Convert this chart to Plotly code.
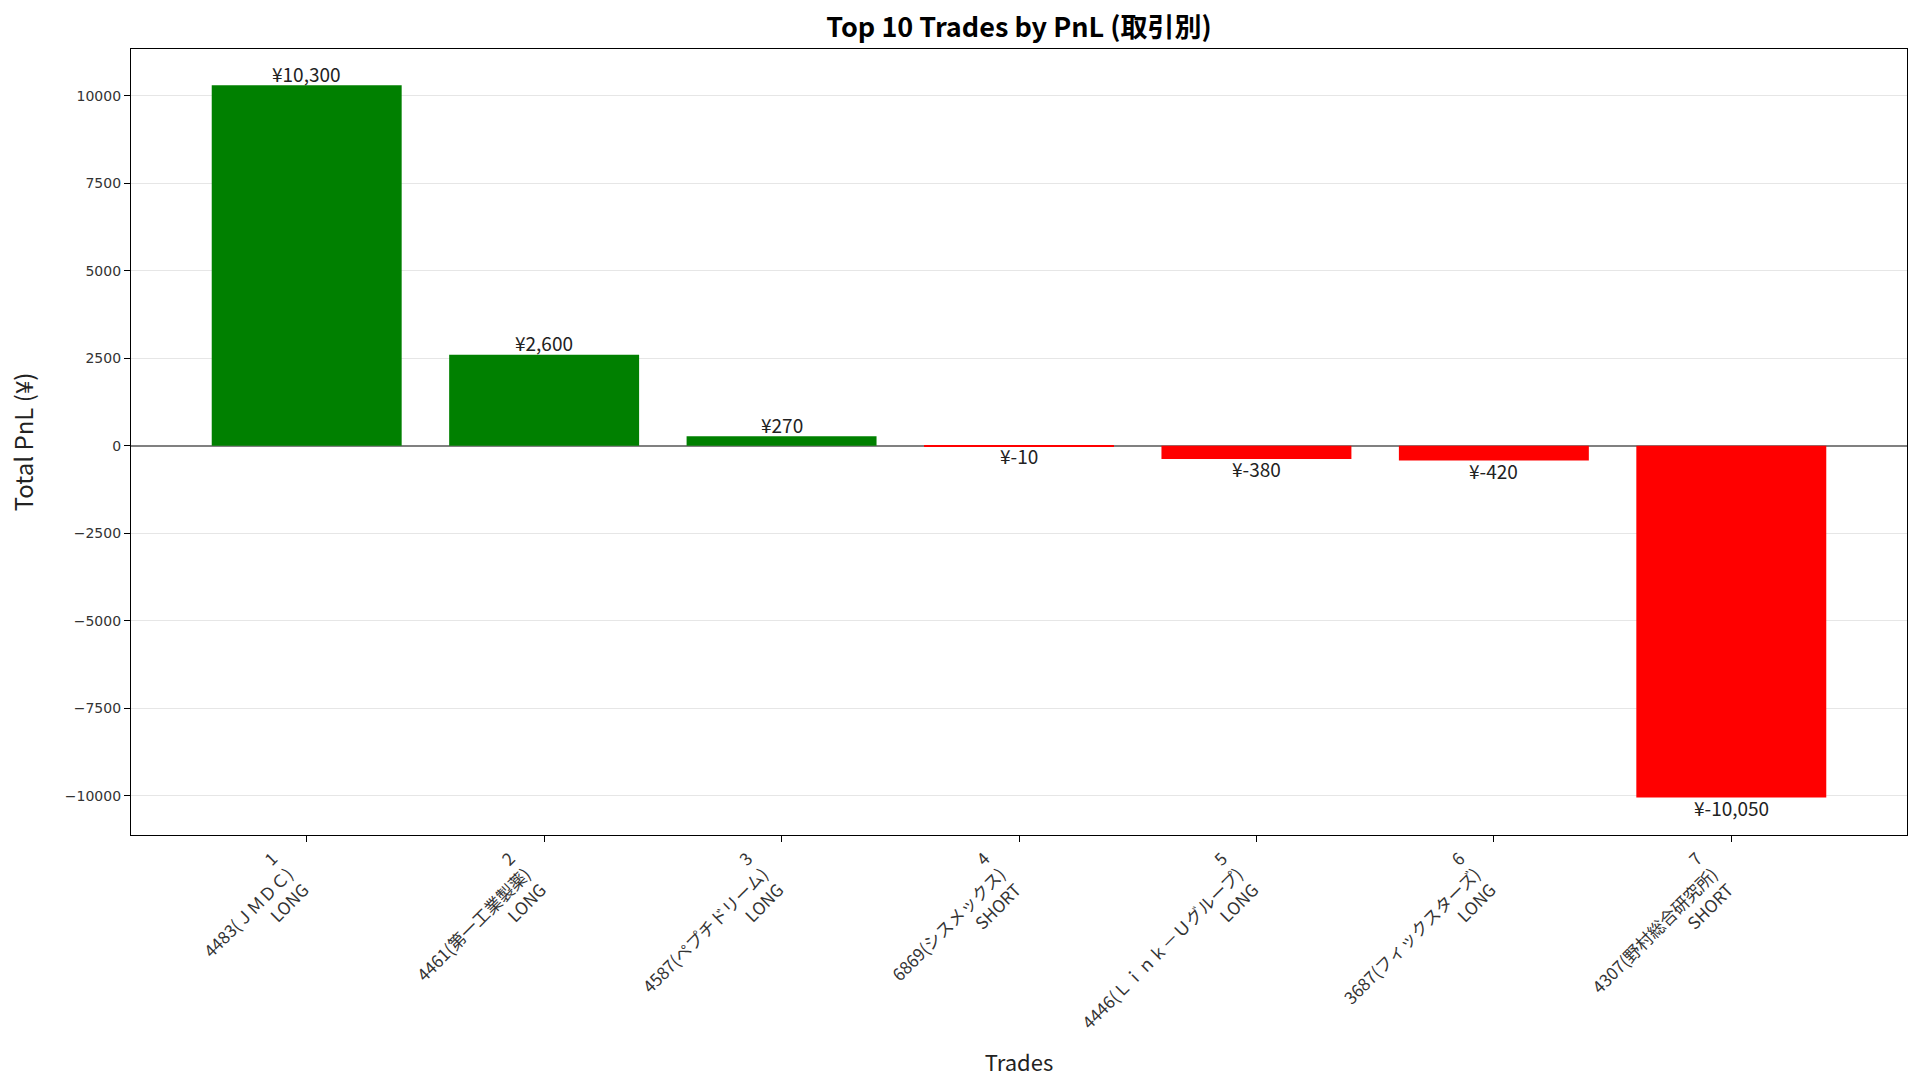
import plotly.graph_objects as go

ranks = ["1", "2", "3", "4", "5", "6", "7"]
tickers = ["4483(ＪＭＤＣ)", "4461(第一工業製薬)", "4587(ペプチドリーム)", "6869(シスメックス)",
           "4446(Ｌｉｎｋ－Ｕグループ)", "3687(フィックスターズ)", "4307(野村総合研究所)"]
sides = ["LONG", "LONG", "LONG", "SHORT", "LONG", "LONG", "SHORT"]
pnl = [10300, 2600, 270, -10, -380, -420, -10050]

labels = [f"{r}<br>{t}<br>{s}" for r, t, s in zip(ranks, tickers, sides)]
colors = ["#008000" if v > 0 else "#ff0000" for v in pnl]
texts = [f"¥{v:,}" if v >= 0 else f"¥-{abs(v):,}" for v in pnl]

FONT = "Noto Sans CJK JP, sans-serif"

fig = go.Figure()
fig.add_trace(go.Bar(
    x=list(range(len(pnl))), y=pnl, marker=dict(color=colors, line=dict(width=0)),
    width=0.8, hoverinfo="skip",
))
for i, (v, t) in enumerate(zip(pnl, texts)):
    fig.add_annotation(
        x=i, y=v, text=t, showarrow=False,
        yanchor="bottom" if v >= 0 else "top", yshift=-3.5 if v >= 0 else 6,
        font=dict(family=FONT, size=19, color="#222"),
    )
fig.update_layout(
    width=1920, height=1089,
    paper_bgcolor="white", plot_bgcolor="white",
    margin=dict(l=131, r=13, t=49, b=254),
    title=dict(text="<b>Top 10 Trades by PnL (取引別)</b>", x=0.5, xref="paper", xanchor="center",
               y=0.975, yanchor="middle", font=dict(family=FONT, size=27, color="black")),
    showlegend=False,
    font=dict(family=FONT),
)
fig.update_xaxes(
    tickmode="array", tickvals=list(range(len(pnl))), ticktext=labels,
    range=[-0.74, 6.74], tickangle=-45, automargin=False, ticklabelshift=-34,
    tickfont=dict(family=FONT, size=17, color="#333"),
    showline=True, linecolor="black", linewidth=1.3, mirror=True,
    ticks="outside", ticklen=6, tickcolor="black", showgrid=False,
    title=dict(text="Trades", font=dict(family=FONT, size=22, color="#222"), standoff=7),
)
fig.update_yaxes(
    range=[-11118, 11335], tickvals=[-10000, -7500, -5000, -2500, 0, 2500, 5000, 7500, 10000],
    ticktext=["−10000", "−7500", "−5000", "−2500", "0", "2500", "5000", "7500", "10000"],
    tickfont=dict(family="DejaVu Sans", size=14, color="#333"), automargin=False,
    showline=True, linecolor="black", linewidth=1.3, mirror=True,
    ticks="outside", ticklen=6, tickcolor="black",
    showgrid=True, gridcolor="#e6e6e6", gridwidth=1,
    zeroline=True, zerolinecolor="#808080", zerolinewidth=2,
    title=dict(text="Total PnL (¥)", font=dict(family=FONT, size=24, color="#222"), standoff=24),
)
fig.write_html("out.html", config={"displayModeBar": False},
               post_script="document.body.style.margin='0';document.body.style.overflow='hidden';")
